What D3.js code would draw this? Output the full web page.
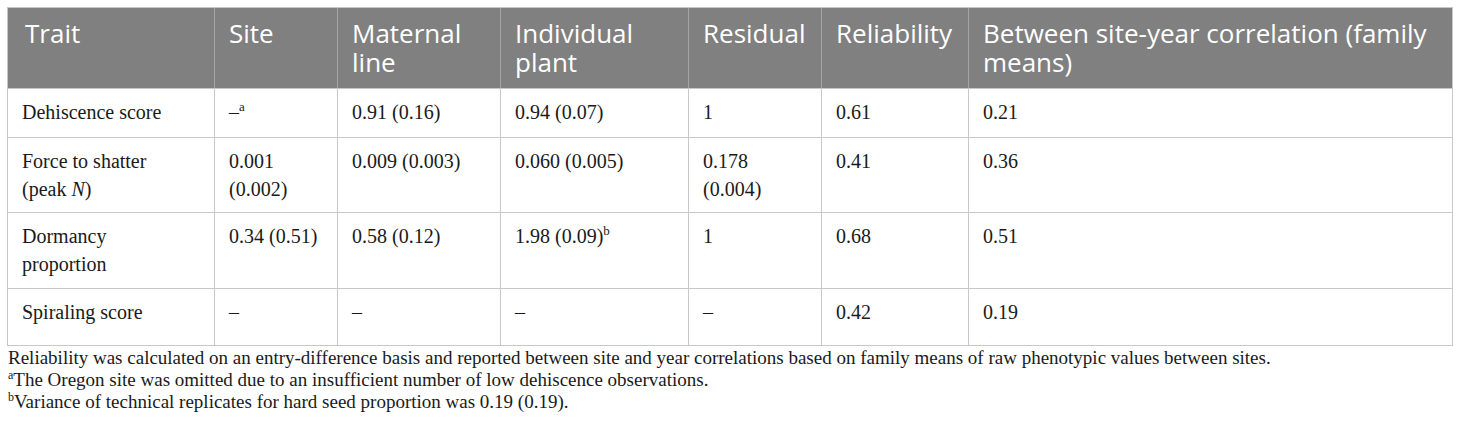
<!DOCTYPE html>
<html>
<head>
<meta charset="utf-8">
<script src="https://cdn.jsdelivr.net/npm/d3@7"></script>
<style>
  html, body { margin: 0; padding: 0; background: #fff; }
  svg { display: block; }
  .head { font-family: "Open Sans", sans-serif; font-size: 26px; fill: #fff; }
  .cell { font-family: "Liberation Serif", serif; font-size: 20px; fill: #1a1a1a; }
  .note { font-family: "Liberation Serif", serif; font-size: 19px; fill: #1a1a1a; }
</style>
</head>
<body>
<svg id="tbl" width="1460" height="424"></svg>
<script>
  // column headers, "\n" marks where the original wraps
  const headers = [
    "Trait",
    "Site",
    "Maternal\nline",
    "Individual\nplant",
    "Residual",
    "Reliability",
    "Between site-year correlation (family\nmeans)"
  ];

  // ^x = superscript letter, _x_ = italic
  const traits = ["Dehiscence score", "Force to shatter\n(peak _N_)", "Dormancy\nproportion", "Spiraling score"];
  const siteVals = ["–^a", "0.001\n(0.002)", "0.34 (0.51)", "–"];
  const maternalVals = ["0.91 (0.16)", "0.009 (0.003)", "0.58 (0.12)", "–"];
  const plantVals = ["0.94 (0.07)", "0.060 (0.005)", "1.98 (0.09)^b", "–"];
  const residualVals = ["1", "0.178\n(0.004)", "1", "–"];
  const reliabilityVals = ["0.61", "0.41", "0.68", "0.42"];
  const correlationVals = ["0.21", "0.36", "0.51", "0.19"];

  const footnotes = [
    "Reliability was calculated on an entry-difference basis and reported between site and year correlations based on family means of raw phenotypic values between sites.",
    "^aThe Oregon site was omitted due to an insufficient number of low dehiscence observations.",
    "^bVariance of technical replicates for hard seed proportion was 0.19 (0.19)."
  ];

  const columns = [traits, siteVals, maternalVals, plantVals, residualVals, reliabilityVals, correlationVals];
  const rows = traits.map((t, i) => columns.map(c => c[i]));

  // layout
  const colEdges = [7, 214, 337, 500, 688, 821, 968, 1452];
  const rowEdges = [7, 88, 137, 212, 288, 345];
  const pad = 15;

  const x = d3.scaleOrdinal().domain(d3.range(headers.length)).range(colEdges.slice(0, -1));
  const y = d3.scaleOrdinal().domain(d3.range(rows.length + 1)).range(rowEdges.slice(0, -1));
  const tableW = colEdges[colEdges.length - 1] - colEdges[0];

  const svg = d3.select("#tbl");

  // split "a^b _c_" into styled pieces
  const pieces = str => str.split(/(\^\w|_[^_]+_)/).filter(s => s !== "").map(s => {
    if (s[0] === "^") return { text: s.slice(1), sup: true };
    if (s[0] === "_") return { text: s.slice(1, -1), italic: true };
    return { text: s };
  });

  function writeLines(sel, str, lineH, supSize, supDy) {
    str.split("\n").forEach((line, li) => {
      const t = sel.append("text")
        .attr("x", 0)
        .attr("y", li * lineH);
      let shift = 0;
      pieces(line).forEach(p => {
        const ts = t.append("tspan").text(p.text);
        if (p.italic) ts.attr("font-style", "italic");
        if (p.sup) {
          ts.attr("font-size", supSize).attr("dy", supDy - shift);
          shift = supDy;
        } else if (shift) {
          ts.attr("dy", -shift);
          shift = 0;
        }
      });
    });
  }

  // header band
  svg.append("rect")
    .attr("x", colEdges[0])
    .attr("y", y(0))
    .attr("width", tableW)
    .attr("height", rowEdges[1] - rowEdges[0])
    .attr("fill", "#808080");

  svg.append("g")
    .selectAll("g")
    .data(headers)
    .enter()
    .append("g")
    .attr("class", "head")
    .attr("transform", (h, i) => `translate(${x(i) + (i === 0 ? 18 : pad)}, ${y(0) + 36})`)
    .each(function(h) { writeLines(d3.select(this), h, 29, 16, -10); });

  // body cells
  const rowGroups = svg.append("g")
    .selectAll("g")
    .data(rows)
    .enter()
    .append("g")
    .attr("transform", (r, i) => `translate(0, ${y(i + 1) + 31})`);

  rowGroups.selectAll("g")
    .data(r => r)
    .enter()
    .append("g")
    .attr("class", "cell")
    .attr("transform", (c, i) => `translate(${x(i) + pad}, 0)`)
    .each(function(c) { writeLines(d3.select(this), c, 28, 13, -8); });

  // grid lines
  const grid = svg.append("g").attr("fill", "none").attr("shape-rendering", "crispEdges");

  grid.selectAll(".hline")
    .data(rowEdges)
    .enter()
    .append("line")
    .attr("x1", colEdges[0])
    .attr("x2", colEdges[colEdges.length - 1])
    .attr("y1", d => d + 0.5)
    .attr("y2", d => d + 0.5)
    .attr("stroke", "#c8c8c8");

  grid.selectAll(".vline")
    .data(colEdges)
    .enter()
    .append("line")
    .attr("x1", d => d + 0.5)
    .attr("x2", d => d + 0.5)
    .attr("y1", rowEdges[0])
    .attr("y2", rowEdges[rowEdges.length - 1] + 1)
    .attr("stroke", "#c8c8c8");

  // inner header dividers, lighter grey on the dark band
  grid.selectAll(".hdiv")
    .data(colEdges.slice(1, -1))
    .enter()
    .append("line")
    .attr("x1", d => d + 0.5)
    .attr("x2", d => d + 0.5)
    .attr("y1", rowEdges[0] + 1)
    .attr("y2", rowEdges[1])
    .attr("stroke", "#a6a6a6");

  // footnotes
  svg.append("g")
    .selectAll("g")
    .data(footnotes)
    .enter()
    .append("g")
    .attr("class", "note")
    .attr("transform", (f, i) => `translate(8, ${364 + i * 22})`)
    .each(function(f) { writeLines(d3.select(this), f, 22, 12, -7); });
</script>
</body>
</html>
